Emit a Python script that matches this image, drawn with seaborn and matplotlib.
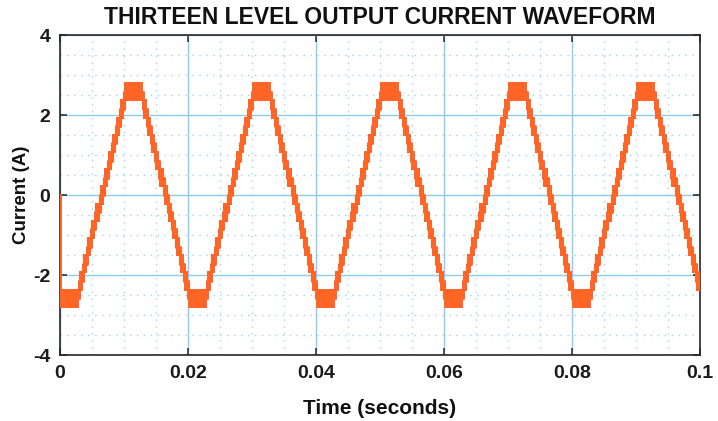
import numpy as np
import pandas as pd
import matplotlib
matplotlib.use("Agg")
import matplotlib.pyplot as plt
import seaborn as sns
from matplotlib.ticker import MultipleLocator

# ---- data -----------------------------------------------------------------
# one period of the 13-level staircase (levels in A, durations in s)
step_levels = [-2.58, -2.15, -1.72, -1.29, -0.86, -0.43, 0.0, 0.43, 0.86, 1.29, 1.72, 2.15,
               2.58, 2.15, 1.72, 1.29, 0.86, 0.43, 0.0, -0.43, -0.86, -1.29, -1.72, -2.15]
step_durations = [0.003,
                  0.000636, 0.000636, 0.000636, 0.000636, 0.000636, 0.000636,
                  0.000636, 0.000636, 0.000636, 0.000636, 0.000636,
                  0.003,
                  0.000636, 0.000636, 0.000636, 0.000636, 0.000636, 0.000636,
                  0.000636, 0.000636, 0.000636, 0.000636, 0.000636]
period_starts = [0.0, 0.02, 0.04, 0.06, 0.08]
start_value = 0.0
end_time = 0.1
ripple_half = 0.24

x_ticks = [0, 0.02, 0.04, 0.06, 0.08, 0.1]
x_tick_labels = ["0", "0.02", "0.04", "0.06", "0.08", "0.1"]
y_ticks = [-4, -2, 0, 2, 4]
y_tick_labels = ["-4", "-2", "0", "2", "4"]

title = "THIRTEEN LEVEL OUTPUT CURRENT WAVEFORM"
xlabel = "Time (seconds)"
ylabel = "Current (A)"

# ---- build the series -------------------------------------------------------
t = [0.0]
y = [start_value]
offsets = np.concatenate([[0.0], np.cumsum(step_durations)[:-1]])
for s in period_starts:
    t.extend(list(s + offsets))
    y.extend(step_levels)
t.append(end_time)
y.append(step_levels[-1])
df = pd.DataFrame({"t": t, "i": y})

# ---- style ------------------------------------------------------------------
sns.set_style("ticks")
plt.rcParams["font.family"] = ["Liberation Sans", "DejaVu Sans"]
plt.rcParams["font.weight"] = "bold"

orange = "#FF6526"
major_grid = "#8DCBF2"
minor_grid = "#9DD3F5"

fig = plt.figure(figsize=(7.18, 4.21), dpi=100)
ax = fig.add_axes([60 / 718, 1 - 355 / 421, 640 / 718, 320 / 421])

ax.fill_between(df["t"], df["i"] - ripple_half, df["i"] + ripple_half,
                step="post", color=orange, linewidth=0, zorder=3)
sns.lineplot(data=df, x="t", y="i", estimator=None, sort=False,
             drawstyle="steps-post", color=orange, linewidth=2.2, ax=ax, zorder=4)

ax.set_xlim(0, 0.1)
ax.set_ylim(-4, 4)
ax.set_xticks(x_ticks)
ax.set_xticklabels(x_tick_labels)
ax.set_yticks(y_ticks)
ax.set_yticklabels(y_tick_labels)
ax.xaxis.set_minor_locator(MultipleLocator(0.005))
ax.yaxis.set_minor_locator(MultipleLocator(0.5))

ax.grid(which="major", color=major_grid, linewidth=1.0, linestyle="-", zorder=0)
ax.grid(which="minor", color=minor_grid, linewidth=1.0, linestyle=(0, (1, 4)), zorder=0)
ax.set_axisbelow(True)

ax.tick_params(which="major", direction="in", length=5, width=1.1, top=True, right=True,
               labelsize=14, colors="#262626", pad=7)
ax.tick_params(which="minor", length=0)
for lab in ax.get_xticklabels() + ax.get_yticklabels():
    lab.set_fontweight("bold")
    lab.set_color("#1a1a1a")
for sp in ax.spines.values():
    sp.set_visible(True)
    sp.set_color("#262626")
    sp.set_linewidth(1.2)

ax.set_title(title, fontsize=16.5, fontweight="bold", color="#111111", y=1.034, pad=0)
ax.set_xlabel(xlabel, fontsize=15, fontweight="bold", color="#111111")
ax.set_ylabel(ylabel, fontsize=13.5, fontweight="bold", color="#111111")
ax.xaxis.set_label_coords(0.5, (355 - 408) / 320)
ax.yaxis.set_label_coords((22 - 60) / 640, 0.5)
ax.xaxis.label.set_va("center")
ax.yaxis.label.set_va("center")

fig.savefig("out.png", dpi=100)
